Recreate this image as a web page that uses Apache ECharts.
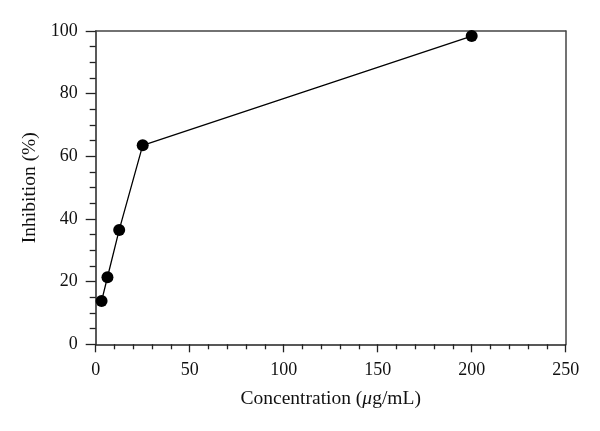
<!DOCTYPE html>
<html>
<head>
<meta charset="utf-8">
<script src="https://cdn.jsdelivr.net/npm/echarts@6/dist/echarts.min.js"></script>
<style>html,body{margin:0;padding:0;background:#fff;}#c{width:600px;height:431px;}</style>
</head>
<body>
<div id="c"></div>
<script>
var concentration = [3.125, 6.25, 12.5, 25, 200];
var inhibition = [13.8, 21.4, 36.5, 63.5, 98.4];
var xTicks = [0, 50, 100, 150, 200, 250];
var yTicks = [0, 20, 40, 60, 80, 100];

var font = 'Liberation Serif';
var axisColor = '#222';
var chart = echarts.init(document.getElementById('c'));
var data = concentration.map(function (c, i) { return [c, inhibition[i]]; });
chart.setOption({
  animation: false,
  grid: { left: 95.7, right: 34.3, top: 31, bottom: 86.7 },
  xAxis: [{
    type: 'value', min: xTicks[0], max: xTicks[xTicks.length - 1], interval: 50,
    axisLine: { show: true, onZero: false, lineStyle: { color: axisColor, width: 1.5 } },
    axisTick: { show: true, inside: false, length: 8, lineStyle: { color: axisColor, width: 1.3 } },
    minorTick: { show: true, splitNumber: 5, length: 5, lineStyle: { color: axisColor, width: 1.3 } },
    splitLine: { show: false },
    axisLabel: { color: '#111', fontFamily: font, fontSize: 18, margin: 17 },
    name: 'Concentration ({i|μ}g/mL)', nameLocation: 'middle', nameGap: 45,
    nameTextStyle: { color: '#111', fontFamily: font, fontSize: 19.5,
      rich: { i: { fontStyle: 'italic', fontFamily: font, fontSize: 19.5, color: '#111' } } }
  }, {
    type: 'value', position: 'top', min: 0, max: 250,
    axisLine: { show: true, onZero: false, lineStyle: { color: '#444', width: 1.5 } },
    axisTick: { show: false }, axisLabel: { show: false }, splitLine: { show: false }
  }],
  yAxis: [{
    type: 'value', min: yTicks[0], max: yTicks[yTicks.length - 1], interval: 20,
    axisLine: { show: true, onZero: false, lineStyle: { color: axisColor, width: 1.5 } },
    axisTick: { show: true, inside: false, length: 10, lineStyle: { color: axisColor, width: 1.3 } },
    minorTick: { show: true, splitNumber: 4, length: 6, lineStyle: { color: axisColor, width: 1.3 } },
    splitLine: { show: false },
    axisLabel: { color: '#111', fontFamily: font, fontSize: 18, margin: 18 },
    name: 'Inhibition (%)', nameLocation: 'middle', nameGap: 55, nameRotate: 90,
    nameTextStyle: { color: '#111', fontFamily: font, fontSize: 19.5 }
  }, {
    type: 'value', position: 'right', min: 0, max: 100,
    axisLine: { show: true, onZero: false, lineStyle: { color: '#444', width: 1.5 } },
    axisTick: { show: false }, axisLabel: { show: false }, splitLine: { show: false }
  }],
  series: [{
    type: 'line', xAxisIndex: 0, yAxisIndex: 0, data: data,
    symbol: 'circle', symbolSize: 12,
    itemStyle: { color: '#000' },
    lineStyle: { color: '#000', width: 1.3 }
  }]
});
</script>
</body>
</html>
